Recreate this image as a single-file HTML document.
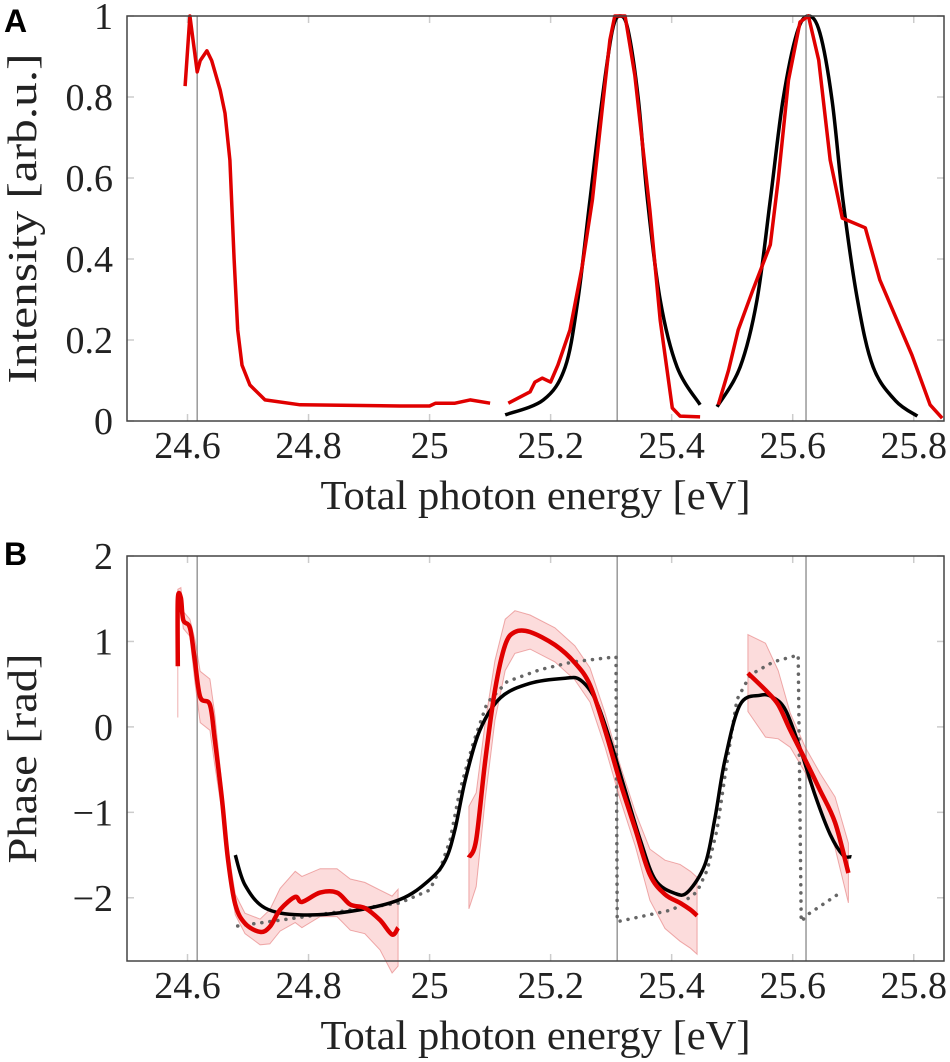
<!DOCTYPE html>
<html><head><meta charset="utf-8"><style>
html,body{margin:0;padding:0;background:#fff;}
svg{display:block;}
text{font-family:"Liberation Serif",serif;fill:#222;}
.lbl{font-family:"Liberation Sans",sans-serif;font-weight:bold;fill:#000;}
</style></head><body>
<svg id="fig" width="950" height="1062" viewBox="0 0 950 1062" xmlns="http://www.w3.org/2000/svg">
<text class="lbl" x="4" y="32" font-size="32">A</text>
<text class="lbl" x="4" y="565" font-size="32">B</text>
<g id="pa"></g>
<g id="pb"></g>
</svg>
<script>
// ---- data ----
const xTicks=[24.6,24.8,25.0,25.2,25.4,25.6,25.8];
const xTickLabels=["24.6","24.8","25","25.2","25.4","25.6","25.8"];
const aYTicks=[0,0.2,0.4,0.6,0.8,1];
const aYTickLabels=["0","0.2","0.4","0.6","0.8","1"];
const bYTicks=[-2,-1,0,1,2];
const bYTickLabels=["\u22122","\u22121","0","1","2"];
const resonances=[24.616,25.31,25.622];

const aRed1E=[24.596,24.604,24.616,24.621,24.632,24.64,24.654,24.662,24.67,24.677,24.683,24.69,24.703,24.728,24.786,24.951,25.0,25.01,25.042,25.067,25.1];
const aRed1I=[0.827,1.0,0.862,0.89,0.914,0.89,0.817,0.76,0.644,0.40,0.225,0.138,0.089,0.052,0.04,0.037,0.037,0.044,0.044,0.052,0.044];
const aRed2E=[25.13,25.166,25.174,25.186,25.2,25.212,25.232,25.252,25.269,25.285,25.298,25.306,25.323,25.339,25.364,25.381,25.401,25.414,25.447];
const aRed2I=[0.044,0.072,0.096,0.106,0.096,0.138,0.225,0.38,0.546,0.768,0.941,1.0,1.0,0.854,0.52,0.249,0.032,0.012,0.01];
const aRed3E=[25.477,25.494,25.51,25.534,25.563,25.576,25.593,25.612,25.626,25.643,25.662,25.682,25.72,25.744,25.797,25.827,25.847];
const aRed3I=[0.04,0.126,0.225,0.323,0.435,0.595,0.842,0.985,1.0,0.891,0.644,0.501,0.477,0.348,0.163,0.04,0.007];
const aBlk1E=[25.125,25.188,25.224,25.245,25.265,25.285,25.302,25.315,25.328,25.345,25.36,25.381,25.409,25.447];
const aBlk1I=[0.015,0.052,0.133,0.299,0.546,0.793,0.965,1.0,0.965,0.793,0.546,0.299,0.133,0.04];
const aBlk2E=[25.475,25.513,25.541,25.563,25.584,25.607,25.626,25.645,25.665,25.683,25.707,25.733,25.77,25.806];
const aBlk2I=[0.035,0.133,0.299,0.546,0.793,0.958,1.0,0.958,0.793,0.546,0.299,0.133,0.05,0.012];

const bRed1E=[24.584,24.584,24.589,24.593,24.604,24.612,24.621,24.637,24.645,24.657,24.667,24.679,24.695,24.72,24.736,24.753,24.778,24.789,24.819,24.847,24.869,24.893,24.918,24.938,24.948];
const bRed1P=[0.71,1.49,1.51,1.25,1.16,0.78,0.35,0.26,-0.15,-0.85,-1.56,-2.08,-2.30,-2.40,-2.34,-2.14,-1.99,-2.05,-1.94,-1.94,-2.08,-2.12,-2.26,-2.43,-2.35];
const bRed1Err=[0.6,0.12,0.12,0.1,0.1,0.25,0.3,0.3,0.3,0.15,0.12,0.12,0.12,0.15,0.2,0.25,0.3,0.3,0.28,0.28,0.3,0.3,0.35,0.45,0.45];
const bRed2E=[25.065,25.077,25.092,25.108,25.125,25.141,25.166,25.207,25.24,25.265,25.29,25.315,25.34,25.364,25.389,25.414,25.431,25.442];
const bRed2P=[-1.53,-1.32,-0.39,0.43,0.96,1.11,1.11,0.96,0.75,0.49,-0.04,-0.65,-1.2,-1.73,-1.96,-2.06,-2.14,-2.21];
const bRed2Err=[0.6,0.55,0.45,0.35,0.3,0.25,0.2,0.2,0.2,0.2,0.2,0.2,0.2,0.3,0.4,0.45,0.45,0.45];
const bRed3E=[25.526,25.555,25.576,25.596,25.621,25.645,25.67,25.692];
const bRed3P=[0.63,0.43,0.26,-0.04,-0.39,-0.74,-1.12,-1.71];
const bRed3Err=[0.45,0.55,0.4,0.2,0.15,0.2,0.3,0.35];
const bBlkE=[24.679,24.695,24.728,24.786,24.869,24.951,25.0,25.026,25.042,25.059,25.083,25.117,25.166,25.224,25.249,25.274,25.298,25.323,25.348,25.373,25.406,25.427,25.455,25.471,25.488,25.513,25.546,25.566,25.588,25.612,25.637,25.662,25.683,25.697];
const bBlkP=[-1.50,-1.85,-2.12,-2.20,-2.16,-2.02,-1.79,-1.56,-1.2,-0.62,-0.04,0.34,0.51,0.57,0.55,0.32,-0.15,-0.74,-1.32,-1.79,-1.95,-1.93,-1.61,-1.09,-0.39,0.26,0.37,0.35,0.20,-0.25,-0.8,-1.26,-1.5,-1.52];
const bDotE=[24.683,24.786,24.951,25.0,25.017,25.034,25.05,25.072,25.095,25.128,25.183,25.237,25.308,25.31,25.402,25.442,25.459,25.475,25.492,25.508,25.53,25.568,25.609,25.614,25.624,25.679];
const bDotP=[-2.33,-2.23,-2.06,-1.91,-1.67,-1.32,-0.74,-0.19,0.28,0.53,0.67,0.76,0.82,-2.28,-2.14,-1.93,-1.67,-1.2,-0.39,0.32,0.61,0.76,0.84,-2.28,-2.2,-1.94];

// ---- rendering ----
const NS="http://www.w3.org/2000/svg";
const L=127,R=944,X0=24.5,X1=25.85;
const sx=e=>L+(e-X0)/(X1-X0)*(R-L);
function mk(parent,tag,attrs){const el=document.createElementNS(NS,tag);for(const k in attrs)el.setAttribute(k,attrs[k]);parent.appendChild(el);return el;}
function path(xs,ys,fx,fy){return xs.map((x,i)=>(i?"L":"M")+fx(x).toFixed(1)+","+fy(ys[i]).toFixed(1)).join("");}
function smooth(xs,ys,fx,fy){
  const p=xs.map((x,i)=>[fx(x),fy(ys[i])]);
  let d="M"+p[0][0].toFixed(1)+","+p[0][1].toFixed(1);
  for(let i=0;i<p.length-1;i++){
    const p0=p[Math.max(0,i-1)],p1=p[i],p2=p[i+1],p3=p[Math.min(p.length-1,i+2)];
    const c1=[p1[0]+(p2[0]-p0[0])/6,p1[1]+(p2[1]-p0[1])/6];
    const c2=[p2[0]-(p3[0]-p1[0])/6,p2[1]-(p3[1]-p1[1])/6];
    d+="C"+c1[0].toFixed(1)+","+c1[1].toFixed(1)+" "+c2[0].toFixed(1)+","+c2[1].toFixed(1)+" "+p2[0].toFixed(1)+","+p2[1].toFixed(1);
  }
  return d;
}

function axes(g,T,B,sy,yT,yL,xlabel,ylabel,ylabelX,ylabelLen){
  mk(g,"rect",{x:L,y:T,width:R-L,height:B-T,fill:"#fff",stroke:"none"});
  xTicks.forEach((v,i)=>{
    const x=sx(v);
    const t1=mk(g,"line",{x1:x,x2:x,y1:B,y2:B-7,stroke:"#ccc","stroke-width":1.5});
    
    
    mk(g,"line",{x1:x,x2:x,y1:T,y2:T+7,stroke:"#ccc","stroke-width":1.5});
    const tx=mk(g,"text",{x:x,y:B+37,"font-size":38,"text-anchor":"middle"});
    tx.textContent=xTickLabels[i];
    
    
  });
  yT.forEach((v,i)=>{
    const y=sy(v);
    mk(g,"line",{x1:L,x2:L+7,y1:y,y2:y,stroke:"#ccc","stroke-width":1.5});
    mk(g,"line",{x1:R,x2:R-7,y1:y,y2:y,stroke:"#ccc","stroke-width":1.5});
    const tx=mk(g,"text",{x:L-14,y:y+13,"font-size":38,"text-anchor":"end"});
    tx.textContent=yL[i];
    
    
  });
  resonances.forEach(v=>{
    const ln=mk(g,"line",{x1:sx(v),x2:sx(v),y1:T,y2:B,stroke:"#999","stroke-width":1.5});
    
    
  });
  const xl=mk(g,"text",{x:(L+R)/2,y:B+88,"font-size":41,"text-anchor":"middle",textLength:430,lengthAdjust:"spacingAndGlyphs"});
  xl.textContent=xlabel;
  
  
  const yl=mk(g,"text",{x:0,y:0,"font-size":41,"text-anchor":"middle",textLength:ylabelLen,lengthAdjust:"spacingAndGlyphs",transform:`translate(${ylabelX},${(T+B)/2}) rotate(-90)`});
  yl.textContent=ylabel;
  
  
}
function frame(g,T,B){
  const f=mk(g,"rect",{x:L,y:T,width:R-L,height:B-T,fill:"none",stroke:"#444","stroke-width":1.5});
  
  
}
function line(g,xs,ys,fy,color,w,name,dash,sm){
  const p=mk(g,"path",{d:(sm?smooth:path)(xs,ys,sx,fy),fill:"none",stroke:color,"stroke-width":w,"stroke-linejoin":"round"});
  if(dash){p.setAttribute("stroke-dasharray",dash);p.setAttribute("stroke-linecap","round");}
  
  
}
function band(g,xs,ys,er,fy,name){
  const up=xs.map((x,i)=>sx(x).toFixed(1)+","+fy(ys[i]+er[i]).toFixed(1));
  const lo=xs.map((x,i)=>sx(x).toFixed(1)+","+fy(ys[i]-er[i]).toFixed(1)).reverse();
  const p=mk(g,"polygon",{points:up.concat(lo).join(" "),fill:"rgba(240,60,60,0.18)",stroke:"rgba(220,80,80,0.45)","stroke-width":1});
  
  
}

// Panel A
const aT=16,aB=421;
const syA=v=>aB-v*(aB-aT);
const ga=document.getElementById("pa");
axes(ga,aT,aB,syA,aYTicks,aYTickLabels,"Total photon energy [eV]","Intensity [arb.u.]",36,330);
line(ga,aBlk1E,aBlk1I,syA,"#000",3.5,"model-peak-1",null,true);
line(ga,aBlk2E,aBlk2I,syA,"#000",3.5,"model-peak-2",null,true);
line(ga,aRed1E,aRed1I,syA,"#e00000",3.5,"measured-intensity-1");
line(ga,aRed2E,aRed2I,syA,"#e00000",3.5,"measured-intensity-2");
line(ga,aRed3E,aRed3I,syA,"#e00000",3.5,"measured-intensity-3");
frame(ga,aT,aB);

// Panel B
const bT=556,bB=961,P0=-2.74,P1=2;
const syB=v=>bB-(v-P0)/(P1-P0)*(bB-bT);
const gb=document.getElementById("pb");
axes(gb,bT,bB,syB,bYTicks,bYTickLabels,"Total photon energy [eV]","Phase [rad]",36,210);
band(gb,bRed1E,bRed1P,bRed1Err,syB,"phase-uncertainty-1");
band(gb,bRed2E,bRed2P,bRed2Err,syB,"phase-uncertainty-2");
band(gb,bRed3E,bRed3P,bRed3Err,syB,"phase-uncertainty-3");
line(gb,bDotE,bDotP,syB,"#666",3.5,"model-phase-dotted","0.1 8");
line(gb,bBlkE,bBlkP,syB,"#000",3.5,"model-phase",null,true);
line(gb,bRed1E,bRed1P,syB,"#e00000",4.5,"measured-phase-1",null,true);
line(gb,bRed2E,bRed2P,syB,"#e00000",4.5,"measured-phase-2",null,true);
line(gb,bRed3E,bRed3P,syB,"#e00000",4.5,"measured-phase-3",null,true);
frame(gb,bT,bB);
</script>
</body></html>
